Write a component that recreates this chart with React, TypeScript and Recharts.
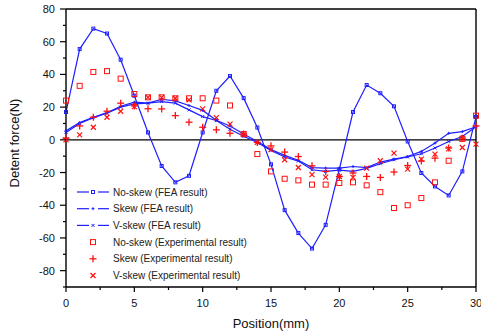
import { ComposedChart, Line, XAxis, YAxis, ReferenceLine } from "recharts";

// position along the stroke (mm)
const positions = [
  0, 1, 2, 3, 4, 5, 6, 7, 8, 9, 10, 11, 12, 13, 14, 15, 16, 17, 18, 19, 20,
  21, 22, 23, 24, 25, 26, 27, 28, 29, 30,
];

// FEA results
const noSkewFea = [
  17, 55.5, 68, 65, 49, 27, 4.5, -16, -26, -22, 4.5, 30, 39, 25.5, 7.5, -15,
  -43, -57, -66.5, -52, -18, 17, 33.5, 28.5, 20.5, -1, -20.3, -28.5, -34,
  -19.3, 14,
];
const skewFea = [
  5.5, 10.5, 13.8, 16.6, 20.5, 23, 22.4, 24.8, 23.8, 21, 18, 12, 8.5, 3.5, -1,
  -6, -9.5, -12.5, -17, -17.3, -17.3, -16.3, -17, -13.6, -11.8, -10.2, -7.1,
  -2, 4, 5, 8,
];
const vSkewFea = [
  4.5, 10, 13.5, 16.3, 20, 22, 22.4, 23.4, 22.4, 18.3, 14.2, 11.8, 6.5, 2.2,
  -1.6, -6.5, -10.5, -13, -18.3, -19.3, -18.5, -19.3, -17.5, -14.6, -12.2,
  -10.5, -8.5, -5, -1, 2, 8,
];

// experimental results
const noSkewExp = [
  24, 33, 41.5, 42, 37.4, 28, 26, 26, 25.4, 25.4, 25.4, 24, 21, 3.5, -8.7,
  -19.3, -23.8, -24.8, -27.4, -27.4, -26.4, -26, -27.8, -32, -41.7, -40, -35.6,
  -26, -12.8, 0.6, 14.8,
];
const skewExp = [
  1, 8.5, 13.8, 17.5, 22.4, 20.7, 19, 18.9, 14.8, 10.8, 7.7, 6.1, 4, 3.5, -1.6,
  -3.7, -7.5, -10.2, -15.9, -19.3, -22.4, -20.3, -22.4, -23, -19.7, -15.7, -13,
  -11.2, -5, 1, 8.5,
];
const vSkewExp = [
  0, 3, 7.7, 13.8, 17.5, 20.3, 26, 26, 25.4, 24.4, 18.9, 13.6, 9.6, 3.5, -1.6,
  -6, -12.2, -16.9, -21.3, -22.8, -22.4, -23, -17.3, -12.8, -8.1, -17.9, -11.8,
  -8.7, -5.5, -4.7, -2.6,
];

const xTicks = [0, 2.5, 5, 7.5, 10, 12.5, 15, 17.5, 20, 22.5, 25, 27.5, 30];
const yTicks = [-90, -80, -70, -60, -50, -40, -30, -20, -10, 0, 10, 20, 30, 40, 50, 60, 70, 80];

const data = positions.map((x, i) => ({
  x,
  noSkewFea: noSkewFea[i],
  skewFea: skewFea[i],
  vSkewFea: vSkewFea[i],
  noSkewExp: noSkewExp[i],
  skewExp: skewExp[i],
  vSkewExp: vSkewExp[i],
}));

const BLUE = "#1f1fff";
const RED = "#ff1010";
const FONT = "'Liberation Sans', Arial, sans-serif";

type Kind = "square" | "plus" | "cross";

function Marker({ cx, cy, kind, color, size, sw }: { cx: number; cy: number; kind: Kind; color: string; size: number; sw: number }) {
  if (cx == null || cy == null || isNaN(cx) || isNaN(cy)) return null;
  const h = size / 2;
  if (kind === "square")
    return <rect x={cx - h} y={cy - h} width={size} height={size} fill="none" stroke={color} strokeWidth={sw} />;
  if (kind === "plus")
    return (
      <g stroke={color} strokeWidth={sw}>
        <line x1={cx - h} y1={cy} x2={cx + h} y2={cy} />
        <line x1={cx} y1={cy - h} x2={cx} y2={cy + h} />
      </g>
    );
  return (
    <g stroke={color} strokeWidth={sw}>
      <line x1={cx - h} y1={cy - h} x2={cx + h} y2={cy + h} />
      <line x1={cx - h} y1={cy + h} x2={cx + h} y2={cy - h} />
    </g>
  );
}

const dotFor = (kind: Kind, color: string, size: number, sw: number) => (p: any) =>
  <Marker key={`d-${kind}-${color}-${p.index}`} cx={p.cx} cy={p.cy} kind={kind} color={color} size={size} sw={sw} />;

const XTick = (p: any) => {
  const v = p.payload.value;
  const major = v % 5 === 0;
  return (
    <g>
      <line x1={p.x} y1={p.y} x2={p.x} y2={p.y + (major ? 5 : 3)} stroke="#000" strokeWidth={1.2} />
      {major && (
        <text x={p.x} y={p.y + 20} textAnchor="middle" fontSize={11} fontFamily={FONT} fill="#111">
          {v}
        </text>
      )}
    </g>
  );
};

const YTick = (p: any) => {
  const v = p.payload.value;
  const major = v % 20 === 0;
  return (
    <g>
      <line x1={p.x} y1={p.y} x2={p.x - (major ? 6 : 3)} y2={p.y} stroke="#000" strokeWidth={1.2} />
      {major && (
        <text x={p.x - 11} y={p.y + 4} textAnchor="end" fontSize={11} fontFamily={FONT} fill="#111">
          {v}
        </text>
      )}
    </g>
  );
};

const legendItems: { label: string; kind: Kind; color: string; size: number; sw: number; line: boolean }[] = [
  { label: "No-skew (FEA result)", kind: "square", color: BLUE, size: 3, sw: 1, line: true },
  { label: "Skew (FEA result)", kind: "plus", color: BLUE, size: 3, sw: 1, line: true },
  { label: "V-skew (FEA result)", kind: "cross", color: BLUE, size: 3, sw: 1, line: true },
  { label: "No-skew (Experimental result)", kind: "square", color: RED, size: 5, sw: 1, line: false },
  { label: "Skew (Experimental result)", kind: "plus", color: RED, size: 7, sw: 1.3, line: false },
  { label: "V-skew (Experimental result)", kind: "cross", color: RED, size: 5, sw: 1.2, line: false },
];

export default function App() {
  return (
    <div style={{ position: "relative", width: 481, height: 336, background: "#fff" }}>
      <style>{"body{margin:0;}"}</style>
      <ComposedChart width={481} height={336} data={data} margin={{ top: 9, right: 5, left: 0, bottom: 0 }}>
        <XAxis
          dataKey="x"
          type="number"
          domain={[0, 30]}
          ticks={xTicks}
          interval={0}
          height={49}
          tickSize={0}
          tickMargin={0}
          tickLine={false}
          tick={XTick}
          axisLine={{ stroke: "#000", strokeWidth: 1.4 }}
        />
        <YAxis
          type="number"
          domain={[-90, 80]}
          ticks={yTicks}
          interval={0}
          width={66}
          tickSize={0}
          tickMargin={0}
          tickLine={false}
          tick={YTick}
          axisLine={{ stroke: "#000", strokeWidth: 1.4 }}
        />
        <ReferenceLine y={80} stroke="#000" strokeWidth={1.4} />
        <ReferenceLine x={30} stroke="#000" strokeWidth={1.4} />
        <ReferenceLine y={0} stroke="#000" strokeWidth={1.3} />
        <Line dataKey="noSkewFea" type="linear" stroke={BLUE} strokeWidth={1.2} dot={dotFor("square", BLUE, 3, 1)} isAnimationActive={false} />
        <Line dataKey="skewFea" type="linear" stroke={BLUE} strokeWidth={1.2} dot={dotFor("plus", BLUE, 3, 1)} isAnimationActive={false} />
        <Line dataKey="vSkewFea" type="linear" stroke={BLUE} strokeWidth={1.2} dot={dotFor("cross", BLUE, 3, 1)} isAnimationActive={false} />
        <Line dataKey="noSkewExp" stroke="none" dot={dotFor("square", RED, 5, 1)} isAnimationActive={false} />
        <Line dataKey="skewExp" stroke="none" dot={dotFor("plus", RED, 7, 1.3)} isAnimationActive={false} />
        <Line dataKey="vSkewExp" stroke="none" dot={dotFor("cross", RED, 5, 1.2)} isAnimationActive={false} />
      </ComposedChart>
      <svg width={481} height={336} style={{ position: "absolute", left: 0, top: 0, pointerEvents: "none" }}>
        <text x={271} y={328} textAnchor="middle" fontSize={13} fontFamily={FONT} fill="#111">
          Position(mm)
        </text>
        <text transform="translate(18.5,143) rotate(-90)" textAnchor="middle" fontSize={13} fontFamily={FONT} fill="#111">
          Detent force(N)
        </text>
        {legendItems.map((it, i) => {
          const y = 192 + i * 16.7;
          return (
            <g key={it.label}>
              {it.line && (
                <g stroke={BLUE} strokeWidth={1.2}>
                  <line x1={77} y1={y} x2={89} y2={y} />
                  <line x1={98} y1={y} x2={109} y2={y} />
                </g>
              )}
              <Marker cx={93} cy={y} kind={it.kind} color={it.color} size={it.size} sw={it.sw} />
              <text x={113} y={y + 3.5} fontSize={10} fontFamily={FONT} fill="#222">
                {it.label}
              </text>
            </g>
          );
        })}
      </svg>
    </div>
  );
}
